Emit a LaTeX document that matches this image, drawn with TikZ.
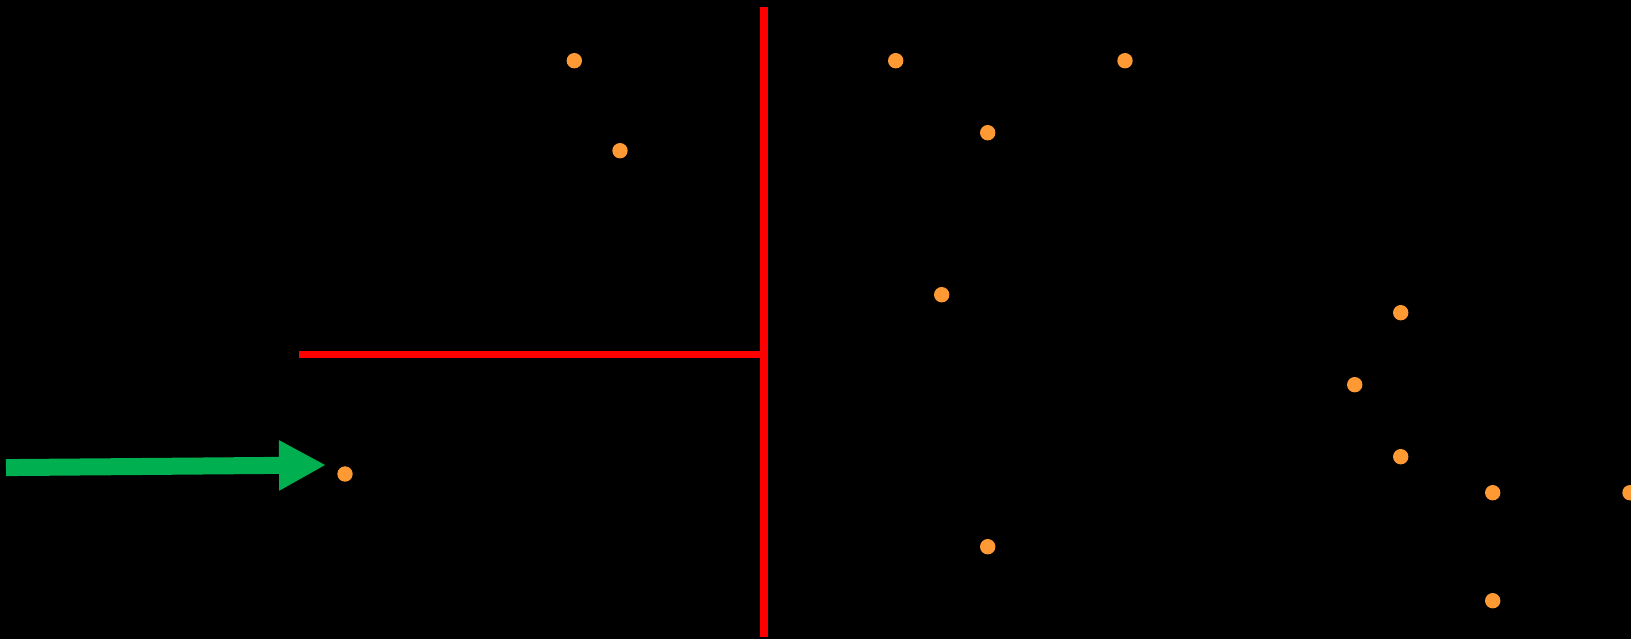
\documentclass[tikz,border=0pt]{standalone}
\usepackage{tikz}
\usetikzlibrary{arrows.meta}
\definecolor{dotorange}{RGB}{255,153,51}
\definecolor{arrowgreen}{RGB}{0,176,80}
\begin{document}
\begin{tikzpicture}[x=1pt,y=-1pt,
    dot/.style = {circle,fill=dotorange,inner sep=0pt,minimum size=15.4pt},
    wall/.style = {red,line width=8pt},
    pointer/.style = {arrowgreen,line width=17pt,-{Triangle[length=47pt,width=47pt]}}]
        \fill[black](0,0)rectangle(1631,639);
        \useasboundingbox(0,0)rectangle(1631,639);
        % 赤い線
        \coordinate(top)at(764,7);
        \coordinate(bottom)at(764,637);
        \coordinate(mid)at(764,354.5);
        \coordinate(left)at(299,354.5);
        \draw[wall](top)to(bottom);
        \draw[wall,line width=7.5pt](left)to(mid);
        % 点
        \foreach \name/\x/\y in {a/574.3/60.7, b/620/150.7, c/895.7/60.7, d/1125/60.7,
            e/987.7/132.7, f/941.7/294.7, g/1400.7/312.7, h/1354.7/384.7,
            i/1400.7/456.7, j/1492.7/492.7, k/1630/492.7, l/987.7/546.7,
            m/1492.7/600.7, n/345/474}
        {
        \node[dot](\name)at(\x,\y){};
        }
        % 矢印
        \coordinate(tail)at(6,467.6);
        \coordinate(tip)at(326,465);
        \draw[pointer](tail)to(tip);
    \end{tikzpicture}
\end{document}
